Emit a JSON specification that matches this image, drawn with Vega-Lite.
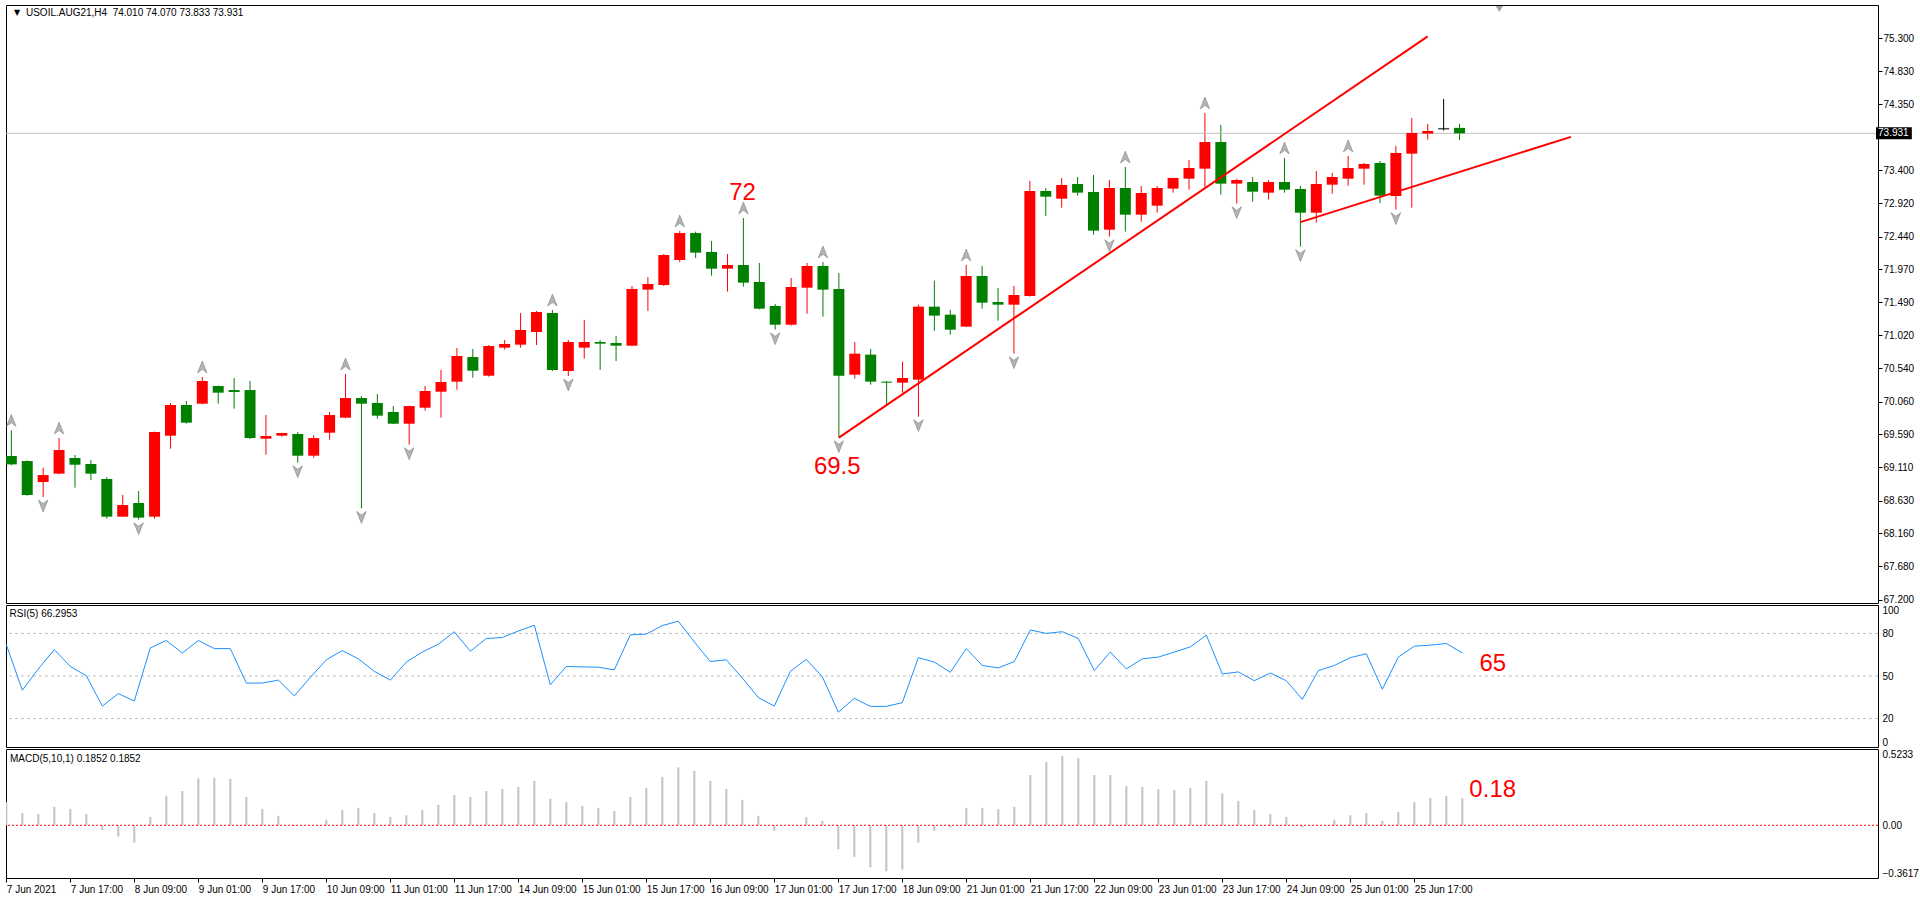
{
"$schema": "https://vega.github.io/schema/vega-lite/v6.json",
"padding": {"left": 5, "top": 4, "right": 0, "bottom": 0},
"background": "white",
"spacing": 2,
"bounds": "flush",
"config": {
  "view": {"stroke": "#000000", "strokeWidth": 1},
  "axis": {"labelFont": "Liberation Sans", "labelFontSize": 10, "labelColor": "#000000", "tickColor": "#000000", "tickSize": 4, "domain": false, "grid": false, "labelPadding": 2, "labelOverlap": false},
  "text": {"font": "Liberation Sans", "fontWeight": "normal"}
},
"datasets": {
"one": [{}],
"bars": [
{"i":0,"o":69.274,"h":69.644,"l":69.14,"c":69.153,"rsi":72.1,"macd":0.160,"fu":1,"fd":0},
{"i":1,"o":69.201,"h":69.21,"l":68.70,"c":68.711,"rsi":40.0,"macd":0.084,"fu":0,"fd":0},
{"i":2,"o":68.898,"h":69.105,"l":68.682,"c":68.999,"rsi":55.0,"macd":0.077,"fu":0,"fd":1},
{"i":3,"o":69.019,"h":69.533,"l":69.01,"c":69.360,"rsi":68.6,"macd":0.126,"fu":1,"fd":0},
{"i":4,"o":69.245,"h":69.288,"l":68.817,"c":69.148,"rsi":56.7,"macd":0.112,"fu":0,"fd":0},
{"i":5,"o":69.158,"h":69.216,"l":68.927,"c":69.019,"rsi":50.2,"macd":0.077,"fu":0,"fd":0},
{"i":6,"o":68.942,"h":68.970,"l":68.369,"c":68.398,"rsi":28.8,"macd":-0.032,"fu":0,"fd":0},
{"i":7,"o":68.398,"h":68.711,"l":68.395,"c":68.566,"rsi":37.6,"macd":-0.077,"fu":0,"fd":0},
{"i":8,"o":68.595,"h":68.768,"l":68.355,"c":68.384,"rsi":32.4,"macd":-0.119,"fu":0,"fd":1},
{"i":9,"o":68.398,"h":69.625,"l":68.369,"c":69.620,"rsi":69.8,"macd":0.057,"fu":0,"fd":0},
{"i":10,"o":69.567,"h":70.039,"l":69.379,"c":70.010,"rsi":75.0,"macd":0.199,"fu":0,"fd":0},
{"i":11,"o":70.010,"h":70.068,"l":69.740,"c":69.755,"rsi":66.2,"macd":0.235,"fu":0,"fd":0},
{"i":12,"o":70.029,"h":70.414,"l":70.02,"c":70.356,"rsi":75.0,"macd":0.322,"fu":1,"fd":0},
{"i":13,"o":70.284,"h":70.29,"l":70.029,"c":70.188,"rsi":69.3,"macd":0.325,"fu":0,"fd":0},
{"i":14,"o":70.226,"h":70.399,"l":69.957,"c":70.197,"rsi":69.3,"macd":0.318,"fu":0,"fd":0},
{"i":15,"o":70.226,"h":70.356,"l":69.519,"c":69.533,"rsi":45.0,"macd":0.194,"fu":0,"fd":0},
{"i":16,"o":69.524,"h":69.865,"l":69.293,"c":69.562,"rsi":45.0,"macd":0.112,"fu":0,"fd":0},
{"i":17,"o":69.567,"h":69.61,"l":69.553,"c":69.606,"rsi":47.1,"macd":0.064,"fu":0,"fd":0},
{"i":18,"o":69.591,"h":69.620,"l":69.177,"c":69.278,"rsi":36.0,"macd":-0.005,"fu":0,"fd":1},
{"i":19,"o":69.278,"h":69.577,"l":69.250,"c":69.533,"rsi":49.0,"macd":0.002,"fu":0,"fd":0},
{"i":20,"o":69.610,"h":69.909,"l":69.509,"c":69.865,"rsi":61.4,"macd":0.037,"fu":0,"fd":0},
{"i":21,"o":69.827,"h":70.457,"l":69.82,"c":70.111,"rsi":67.9,"macd":0.105,"fu":1,"fd":0},
{"i":22,"o":70.111,"h":70.140,"l":68.518,"c":70.029,"rsi":62.1,"macd":0.119,"fu":0,"fd":1},
{"i":23,"o":70.039,"h":70.168,"l":69.812,"c":69.856,"rsi":53.3,"macd":0.084,"fu":0,"fd":0},
{"i":24,"o":69.909,"h":69.995,"l":69.735,"c":69.740,"rsi":47.1,"macd":0.057,"fu":0,"fd":0},
{"i":25,"o":69.740,"h":70.0,"l":69.437,"c":69.995,"rsi":59.8,"macd":0.069,"fu":0,"fd":1},
{"i":26,"o":69.971,"h":70.284,"l":69.928,"c":70.212,"rsi":66.9,"macd":0.105,"fu":0,"fd":0},
{"i":27,"o":70.202,"h":70.515,"l":69.827,"c":70.342,"rsi":72.4,"macd":0.140,"fu":0,"fd":0},
{"i":28,"o":70.347,"h":70.832,"l":70.231,"c":70.717,"rsi":81.2,"macd":0.208,"fu":0,"fd":0},
{"i":29,"o":70.702,"h":70.818,"l":70.404,"c":70.505,"rsi":67.4,"macd":0.194,"fu":0,"fd":0},
{"i":30,"o":70.433,"h":70.876,"l":70.419,"c":70.861,"rsi":76.4,"macd":0.235,"fu":0,"fd":0},
{"i":31,"o":70.838,"h":70.948,"l":70.809,"c":70.890,"rsi":77.1,"macd":0.249,"fu":0,"fd":0},
{"i":32,"o":70.881,"h":71.338,"l":70.838,"c":71.093,"rsi":81.7,"macd":0.263,"fu":0,"fd":0},
{"i":33,"o":71.064,"h":71.367,"l":70.876,"c":71.352,"rsi":85.7,"macd":0.304,"fu":0,"fd":0},
{"i":34,"o":71.338,"h":71.381,"l":70.501,"c":70.515,"rsi":43.8,"macd":0.181,"fu":1,"fd":0},
{"i":35,"o":70.501,"h":70.948,"l":70.429,"c":70.919,"rsi":56.7,"macd":0.158,"fu":0,"fd":1},
{"i":36,"o":70.838,"h":71.237,"l":70.679,"c":70.919,"rsi":56.4,"macd":0.133,"fu":0,"fd":0},
{"i":37,"o":70.919,"h":70.948,"l":70.515,"c":70.895,"rsi":56.2,"macd":0.119,"fu":0,"fd":0},
{"i":38,"o":70.905,"h":71.006,"l":70.645,"c":70.866,"rsi":54.3,"macd":0.098,"fu":0,"fd":0},
{"i":39,"o":70.866,"h":71.728,"l":70.86,"c":71.684,"rsi":79.0,"macd":0.194,"fu":0,"fd":0},
{"i":40,"o":71.675,"h":71.857,"l":71.367,"c":71.756,"rsi":79.5,"macd":0.256,"fu":0,"fd":0},
{"i":41,"o":71.742,"h":72.189,"l":71.728,"c":72.175,"rsi":85.5,"macd":0.331,"fu":0,"fd":0},
{"i":42,"o":72.103,"h":72.521,"l":72.074,"c":72.492,"rsi":88.6,"macd":0.398,"fu":1,"fd":0},
{"i":43,"o":72.492,"h":72.512,"l":72.132,"c":72.209,"rsi":74.0,"macd":0.373,"fu":0,"fd":0},
{"i":44,"o":72.218,"h":72.377,"l":71.877,"c":71.978,"rsi":60.2,"macd":0.304,"fu":0,"fd":0},
{"i":45,"o":71.978,"h":72.189,"l":71.646,"c":72.031,"rsi":61.4,"macd":0.249,"fu":0,"fd":0},
{"i":46,"o":72.031,"h":72.709,"l":71.718,"c":71.776,"rsi":48.6,"macd":0.174,"fu":1,"fd":0},
{"i":47,"o":71.785,"h":72.060,"l":71.39,"c":71.400,"rsi":34.8,"macd":0.064,"fu":0,"fd":0},
{"i":48,"o":71.439,"h":71.468,"l":71.097,"c":71.169,"rsi":28.8,"macd":-0.037,"fu":0,"fd":1},
{"i":49,"o":71.169,"h":71.843,"l":71.155,"c":71.713,"rsi":53.3,"macd":0.003,"fu":0,"fd":0},
{"i":50,"o":71.703,"h":72.060,"l":71.328,"c":72.016,"rsi":61.7,"macd":0.055,"fu":0,"fd":0},
{"i":51,"o":72.016,"h":72.074,"l":71.285,"c":71.675,"rsi":49.5,"macd":0.030,"fu":1,"fd":0},
{"i":52,"o":71.684,"h":71.915,"l":69.539,"c":70.433,"rsi":24.5,"macd":-0.165,"fu":0,"fd":1},
{"i":53,"o":70.448,"h":70.919,"l":70.390,"c":70.751,"rsi":34.3,"macd":-0.217,"fu":0,"fd":0},
{"i":54,"o":70.737,"h":70.818,"l":70.303,"c":70.347,"rsi":28.6,"macd":-0.288,"fu":0,"fd":0},
{"i":55,"o":70.347,"h":70.355,"l":70.015,"c":70.332,"rsi":28.6,"macd":-0.315,"fu":0,"fd":0},
{"i":56,"o":70.332,"h":70.635,"l":70.188,"c":70.400,"rsi":31.2,"macd":-0.304,"fu":0,"fd":0},
{"i":57,"o":70.376,"h":71.458,"l":69.842,"c":71.429,"rsi":62.9,"macd":-0.119,"fu":0,"fd":1},
{"i":58,"o":71.429,"h":71.805,"l":71.080,"c":71.300,"rsi":59.8,"macd":-0.037,"fu":0,"fd":0},
{"i":59,"o":71.314,"h":71.386,"l":71.025,"c":71.097,"rsi":52.6,"macd":-0.014,"fu":0,"fd":0},
{"i":60,"o":71.141,"h":72.031,"l":71.135,"c":71.872,"rsi":69.3,"macd":0.119,"fu":1,"fd":0},
{"i":61,"o":71.872,"h":72.017,"l":71.401,"c":71.487,"rsi":57.4,"macd":0.119,"fu":0,"fd":0},
{"i":62,"o":71.497,"h":71.699,"l":71.228,"c":71.458,"rsi":55.7,"macd":0.110,"fu":0,"fd":0},
{"i":63,"o":71.458,"h":71.728,"l":70.751,"c":71.598,"rsi":60.2,"macd":0.126,"fu":0,"fd":1},
{"i":64,"o":71.584,"h":73.243,"l":71.574,"c":73.099,"rsi":82.4,"macd":0.345,"fu":0,"fd":0},
{"i":65,"o":73.099,"h":73.142,"l":72.738,"c":73.017,"rsi":80.0,"macd":0.434,"fu":0,"fd":0},
{"i":66,"o":72.988,"h":73.287,"l":72.858,"c":73.186,"rsi":81.2,"macd":0.475,"fu":0,"fd":0},
{"i":67,"o":73.200,"h":73.301,"l":73.032,"c":73.075,"rsi":76.4,"macd":0.459,"fu":0,"fd":0},
{"i":68,"o":73.085,"h":73.330,"l":72.469,"c":72.527,"rsi":53.8,"macd":0.345,"fu":0,"fd":0},
{"i":69,"o":72.541,"h":73.258,"l":72.440,"c":73.142,"rsi":66.9,"macd":0.345,"fu":0,"fd":1},
{"i":70,"o":73.142,"h":73.445,"l":72.512,"c":72.757,"rsi":55.0,"macd":0.268,"fu":1,"fd":0},
{"i":71,"o":72.757,"h":73.171,"l":72.656,"c":73.070,"rsi":62.1,"macd":0.263,"fu":0,"fd":0},
{"i":72,"o":72.887,"h":73.171,"l":72.786,"c":73.142,"rsi":63.3,"macd":0.247,"fu":0,"fd":0},
{"i":73,"o":73.133,"h":73.29,"l":73.075,"c":73.287,"rsi":66.9,"macd":0.242,"fu":0,"fd":0},
{"i":74,"o":73.277,"h":73.546,"l":73.118,"c":73.431,"rsi":70.5,"macd":0.256,"fu":0,"fd":0},
{"i":75,"o":73.421,"h":74.225,"l":73.147,"c":73.806,"rsi":78.8,"macd":0.304,"fu":1,"fd":0},
{"i":76,"o":73.806,"h":74.052,"l":73.046,"c":73.205,"rsi":51.4,"macd":0.219,"fu":0,"fd":0},
{"i":77,"o":73.205,"h":73.277,"l":72.916,"c":73.258,"rsi":52.9,"macd":0.167,"fu":0,"fd":1},
{"i":78,"o":73.229,"h":73.301,"l":72.945,"c":73.089,"rsi":46.7,"macd":0.105,"fu":0,"fd":0},
{"i":79,"o":73.075,"h":73.258,"l":72.974,"c":73.229,"rsi":52.1,"macd":0.077,"fu":0,"fd":0},
{"i":80,"o":73.229,"h":73.575,"l":73.075,"c":73.118,"rsi":46.7,"macd":0.057,"fu":1,"fd":0},
{"i":81,"o":73.128,"h":73.171,"l":72.296,"c":72.786,"rsi":33.6,"macd":-0.014,"fu":0,"fd":1},
{"i":82,"o":72.786,"h":73.388,"l":72.642,"c":73.200,"rsi":53.8,"macd":0.002,"fu":0,"fd":0},
{"i":83,"o":73.190,"h":73.359,"l":73.061,"c":73.301,"rsi":57.4,"macd":0.037,"fu":0,"fd":0},
{"i":84,"o":73.277,"h":73.604,"l":73.176,"c":73.431,"rsi":62.9,"macd":0.069,"fu":1,"fd":0},
{"i":85,"o":73.421,"h":73.503,"l":73.190,"c":73.489,"rsi":65.7,"macd":0.084,"fu":0,"fd":0},
{"i":86,"o":73.503,"h":73.532,"l":72.926,"c":73.032,"rsi":40.7,"macd":0.030,"fu":0,"fd":0},
{"i":87,"o":73.027,"h":73.749,"l":72.830,"c":73.648,"rsi":63.3,"macd":0.091,"fu":0,"fd":1},
{"i":88,"o":73.638,"h":74.153,"l":72.859,"c":73.937,"rsi":71.0,"macd":0.158,"fu":0,"fd":0},
{"i":89,"o":73.927,"h":74.066,"l":73.840,"c":73.965,"rsi":71.7,"macd":0.187,"fu":0,"fd":0},
{"i":90,"o":73.998,"h":74.427,"l":73.970,"c":73.998,"rsi":72.9,"macd":0.201,"fu":0,"fd":0},
{"i":91,"o":74.010,"h":74.070,"l":73.833,"c":73.931,"rsi":66.3,"macd":0.185,"fu":0,"fd":0}
],
"trend": [
{"line":"a","i":52,"p":69.539},
{"line":"a","i":89,"p":75.33},
{"line":"b","i":81,"p":72.65},
{"line":"b","i":98,"p":73.88}
]
},
"vconcat": [
{
  "width": 1872, "height": 598,
  "data": {"name": "bars"},
  "layer": [
    {"mark": {"type": "rule", "strokeWidth": 1, "clip": true},
     "encoding": {
       "x": {"field": "i", "type": "quantitative", "scale": {"domain": [-0.02, 116.98], "nice": false, "zero": false}, "axis": null},
       "y": {"field": "l", "type": "quantitative", "scale": {"domain": [67.152, 75.7835], "nice": false, "zero": false},
             "axis": {"orient": "right", "title": null, "values": [75.3, 74.83, 74.35, 73.4, 72.92, 72.44, 71.97, 71.49, 71.02, 70.54, 70.06, 69.59, 69.11, 68.63, 68.16, 67.68, 67.2], "tickCount": 100, "format": ".3f", "labelPadding": 1, "labelOverlap": false, "labelBound": false}},
       "y2": {"field": "h"},
       "color": {"condition": [{"test": "datum.c == datum.o", "value": "#000000"}, {"test": "datum.c > datum.o", "value": "#ff0000"}], "value": "#008000"}
     }},
    {"data": {"name": "one"},
     "mark": {"type": "rule", "color": "#c0c0c0", "strokeWidth": 1},
     "encoding": {"y": {"datum": 73.931, "type": "quantitative", "axis": {"title": null}}}},
    {"mark": {"type": "bar", "size": 11, "clip": true},
     "encoding": {
       "x": {"field": "i", "type": "quantitative", "axis": null},
       "y": {"field": "o", "type": "quantitative", "axis": {"title": null}},
       "y2": {"field": "c"},
       "color": {"condition": {"test": "datum.c > datum.o", "value": "#ff0000"}, "value": "#008000"}
     }},
    {"transform": [{"filter": "datum.o == datum.c"}],
     "mark": {"type": "tick", "orient": "horizontal", "size": 11, "thickness": 1.5, "color": "#000000", "clip": true},
     "encoding": {
       "x": {"field": "i", "type": "quantitative", "axis": null},
       "y": {"field": "o", "type": "quantitative", "axis": {"title": null}}
     }},
    {"transform": [{"filter": "datum.fu == 1"}],
     "mark": {"type": "point", "shape": "M0,-1L0.8,1L0,0.4L-0.8,1Z", "size": 140, "filled": true, "fill": "#b4b4b4", "stroke": "#808080", "strokeWidth": 0.6, "opacity": 1, "yOffset": -10, "clip": true},
     "encoding": {
       "x": {"field": "i", "type": "quantitative", "axis": null},
       "y": {"field": "h", "type": "quantitative", "axis": {"title": null}}
     }},
    {"transform": [{"filter": "datum.fd == 1"}],
     "mark": {"type": "point", "shape": "M0,1L0.8,-1L0,-0.4L-0.8,-1Z", "size": 140, "filled": true, "fill": "#b4b4b4", "stroke": "#808080", "strokeWidth": 0.6, "opacity": 1, "yOffset": 9, "clip": true},
     "encoding": {
       "x": {"field": "i", "type": "quantitative", "axis": null},
       "y": {"field": "l", "type": "quantitative", "axis": {"title": null}}
     }},
    {"data": {"name": "trend"},
     "mark": {"type": "line", "color": "#ff0000", "strokeWidth": 2, "clip": true},
     "encoding": {
       "x": {"field": "i", "type": "quantitative", "axis": null},
       "y": {"field": "p", "type": "quantitative", "axis": {"title": null}},
       "detail": {"field": "line"}
     }},
    {"data": {"name": "one"},
     "mark": {"type": "text", "text": "72", "fontSize": 24, "fontWeight": "normal", "color": "#ff0000", "align": "center", "baseline": "middle"},
     "encoding": {"x": {"datum": 45.95, "type": "quantitative", "axis": null}, "y": {"datum": 73.063, "type": "quantitative", "axis": {"title": null}}}},
    {"data": {"name": "one"},
     "mark": {"type": "text", "text": "69.5", "fontSize": 24, "fontWeight": "normal", "color": "#ff0000", "align": "center", "baseline": "middle"},
     "encoding": {"x": {"datum": 51.9, "type": "quantitative", "axis": null}, "y": {"datum": 69.122, "type": "quantitative", "axis": {"title": null}}}},
    {"data": {"name": "one"},
     "mark": {"type": "text", "text": "▼", "fontSize": 8, "color": "#000000", "align": "left", "baseline": "middle", "font": "DejaVu Sans"},
     "encoding": {"x": {"datum": 0.17, "type": "quantitative", "axis": null}, "y": {"datum": 75.661, "type": "quantitative", "axis": {"title": null}}}},
    {"data": {"name": "one"},
     "mark": {"type": "text", "text": "USOIL.AUG21,H4\u00a0\u00a074.010 74.070 73.833 73.931", "fontSize": 10, "fontWeight": "normal", "color": "#000000", "align": "left", "baseline": "middle"},
     "encoding": {"x": {"datum": 0.92, "type": "quantitative", "axis": null}, "y": {"datum": 75.661, "type": "quantitative", "axis": {"title": null}}}},
    {"data": {"name": "one"},
     "mark": {"type": "rule", "color": "#000000", "strokeWidth": 12, "strokeCap": "butt"},
     "encoding": {"x": {"datum": 117.17, "type": "quantitative", "axis": null}, "x2": {"datum": 119.42}, "y": {"datum": 73.931, "type": "quantitative", "axis": {"title": null}}}},
    {"data": {"name": "one"},
     "mark": {"type": "text", "text": "73.931", "fontSize": 10, "fontWeight": "normal", "color": "#ffffff", "align": "left", "baseline": "middle", "dx": 2},
     "encoding": {"x": {"datum": 117.17, "type": "quantitative", "axis": null}, "y": {"datum": 73.931, "type": "quantitative", "axis": {"title": null}}}},
    {"data": {"name": "one"},
     "mark": {"type": "point", "shape": "triangle-down", "size": 50, "filled": true, "color": "#a0a0a0", "opacity": 1, "yOffset": 4},
     "encoding": {"x": {"datum": 93.5, "type": "quantitative", "axis": null}, "y": {"datum": 75.7835, "type": "quantitative", "axis": {"title": null}}}}
  ]
},
{
  "width": 1872, "height": 142,
  "data": {"name": "bars"},
  "layer": [
    {"data": {"values": [{"lv": 20}, {"lv": 50}, {"lv": 80}]},
     "mark": {"type": "rule", "color": "#c0c0c0", "strokeWidth": 1, "strokeDash": [3, 3]},
     "encoding": {"y": {"field": "lv", "type": "quantitative", "scale": {"domain": [0, 100], "nice": false, "zero": false},
       "axis": {"orient": "right", "title": null, "values": [0, 20, 50, 80, 100], "tickCount": 100, "labelFlush": true, "labelOverlap": false, "labelBound": false, "tickSize": 0, "labelPadding": 4}}}},
    {"mark": {"type": "line", "color": "#1e90ff", "strokeWidth": 1, "clip": true},
     "encoding": {
       "x": {"field": "i", "type": "quantitative", "scale": {"domain": [-0.02, 116.98], "nice": false, "zero": false}, "axis": null},
       "y": {"field": "rsi", "type": "quantitative", "axis": {"title": null}}
     }},
    {"data": {"name": "one"},
     "mark": {"type": "text", "text": "RSI(5) 66.2953", "fontSize": 10, "fontWeight": "normal", "color": "#000000", "align": "left", "baseline": "middle"},
     "encoding": {"x": {"datum": 0.2, "type": "quantitative", "axis": null}, "y": {"datum": 93.7, "type": "quantitative", "axis": {"title": null}}}},
    {"data": {"name": "one"},
     "mark": {"type": "text", "text": "65", "fontSize": 24, "fontWeight": "normal", "color": "#ff0000", "align": "center", "baseline": "middle"},
     "encoding": {"x": {"datum": 92.9, "type": "quantitative", "axis": null}, "y": {"datum": 58.1, "type": "quantitative", "axis": {"title": null}}}}
  ]
},
{
  "width": 1872, "height": 129,
  "data": {"name": "bars"},
  "layer": [
    {"mark": {"type": "rule", "color": "#c0c0c0", "strokeWidth": 2, "clip": true},
     "encoding": {
       "x": {"field": "i", "type": "quantitative", "scale": {"domain": [-0.02, 116.98], "nice": false, "zero": false},
             "axis": {"orient": "bottom", "title": null, "values": [0, 4, 8, 12, 16, 20, 24, 28, 32, 36, 40, 44, 48, 52, 56, 60, 64, 68, 72, 76, 80, 84, 88], "tickCount": 100, "labelAlign": "left", "labelBaseline": "top", "labelFlush": false, "labelOverlap": false, "labelPadding": 2, "tickSize": 4,
             "labelExpr": "['7 Jun 2021','7 Jun 17:00','8 Jun 09:00','9 Jun 01:00','9 Jun 17:00','10 Jun 09:00','11 Jun 01:00','11 Jun 17:00','14 Jun 09:00','15 Jun 01:00','15 Jun 17:00','16 Jun 09:00','17 Jun 01:00','17 Jun 17:00','18 Jun 09:00','21 Jun 01:00','21 Jun 17:00','22 Jun 09:00','23 Jun 01:00','23 Jun 17:00','24 Jun 09:00','25 Jun 01:00','25 Jun 17:00'][round(datum.value/4)]"}},
       "y": {"field": "macd", "type": "quantitative", "scale": {"domain": [-0.3617, 0.5233], "nice": false, "zero": false},
             "axis": {"orient": "right", "title": null, "values": [-0.3617, 0, 0.5233], "tickCount": 100, "labelFlush": true, "labelOverlap": false, "labelBound": false, "tickSize": 0, "labelPadding": 4, "labelExpr": "datum.value == 0 ? '0.00' : format(datum.value, '.4f')"}},
       "y2": {"datum": 0}
     }},
    {"data": {"name": "one"},
     "mark": {"type": "rule", "color": "#ff0000", "strokeWidth": 1, "strokeDash": [2, 2]},
     "encoding": {"y": {"datum": 0, "type": "quantitative", "axis": {"title": null}}}},
    {"data": {"name": "one"},
     "mark": {"type": "text", "text": "MACD(5,10,1) 0.1852 0.1852", "fontSize": 10, "fontWeight": "normal", "color": "#000000", "align": "left", "baseline": "middle"},
     "encoding": {"x": {"datum": 0.23, "type": "quantitative", "axis": {"title": null}}, "y": {"datum": 0.4568, "type": "quantitative", "axis": {"title": null}}}},
    {"data": {"name": "one"},
     "mark": {"type": "text", "text": "0.18", "fontSize": 24, "fontWeight": "normal", "color": "#ff0000", "align": "center", "baseline": "middle"},
     "encoding": {"x": {"datum": 92.9, "type": "quantitative", "axis": {"title": null}}, "y": {"datum": 0.2454, "type": "quantitative", "axis": {"title": null}}}}
  ]
}
]
}
